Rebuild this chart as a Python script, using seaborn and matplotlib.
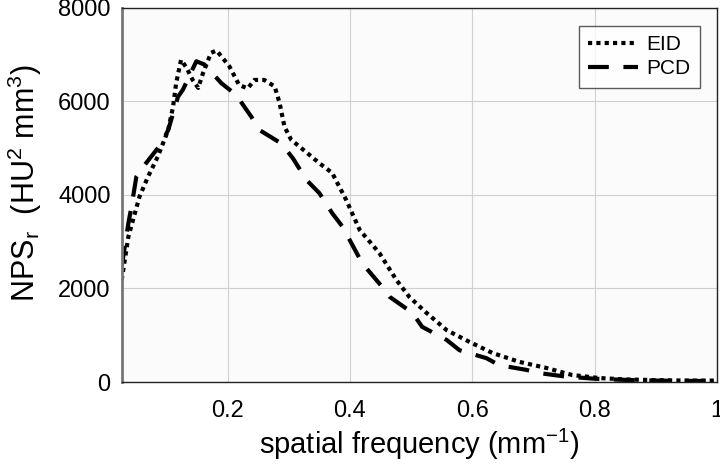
import pandas as pd
import matplotlib.pyplot as plt
import seaborn as sns

# valores
eid_freq = [0.027, 0.038, 0.056, 0.070, 0.086, 0.103, 0.111, 0.116, 0.124, 0.133,
            0.143, 0.152, 0.160, 0.173, 0.182, 0.192, 0.203, 0.219, 0.233, 0.244,
            0.260, 0.277, 0.285, 0.293, 0.304, 0.318, 0.350, 0.371, 0.394, 0.416,
            0.448, 0.476, 0.497, 0.525, 0.558, 0.595, 0.633, 0.677, 0.721, 0.763,
            0.807, 0.850, 0.900, 0.950, 1.000]
eid_nps = [2180, 3110, 3960, 4390, 4820, 5390, 5890, 6390, 6890, 6720,
           6460, 6290, 6610, 7040, 7090, 6930, 6750, 6350, 6280, 6460,
           6460, 6320, 5970, 5460, 5180, 5030, 4680, 4470, 3890, 3250,
           2760, 2180, 1820, 1480, 1110, 860, 620, 430, 300, 150,
           85, 55, 40, 30, 30]

pcd_freq = [0.027, 0.038, 0.043, 0.051, 0.062, 0.092, 0.103, 0.119, 0.127, 0.149,
            0.162, 0.190, 0.214, 0.239, 0.252, 0.288, 0.307, 0.329, 0.350, 0.371,
            0.388, 0.420, 0.453, 0.465, 0.502, 0.518, 0.558, 0.579, 0.623, 0.644,
            0.688, 0.710, 0.750, 0.800, 0.850, 0.900, 0.950, 1.000]
pcd_nps = [2470, 3400, 3750, 4390, 4600, 5100, 5390, 6100, 6250, 6860,
           6790, 6390, 6140, 5670, 5390, 5100, 4780, 4320, 4040, 3610,
           3320, 2540, 2030, 1820, 1480, 1180, 900, 680, 510, 360,
           260, 190, 120, 70, 45, 30, 25, 20]

y_ticks = [0, 2000, 4000, 6000, 8000]
x_ticks = [0.2, 0.4, 0.6, 0.8, 1.0]
x_tick_labels = ["0.2", "0.4", "0.6", "0.8", "1"]


def main():
    sns.set_style("whitegrid")
    plt.rcParams['font.family'] = ['Liberation Sans', 'DejaVu Sans']
    plt.rcParams['mathtext.fontset'] = 'custom'
    plt.rcParams['mathtext.rm'] = 'Liberation Sans'
    plt.rcParams['mathtext.it'] = 'Liberation Sans'
    plt.rcParams['text.color'] = 'black'
    plt.rcParams['axes.labelcolor'] = 'black'

    df = pd.concat([
        pd.DataFrame({'freq': eid_freq, 'nps': eid_nps, 'detector': 'EID'}),
        pd.DataFrame({'freq': pcd_freq, 'nps': pcd_nps, 'detector': 'PCD'}),
    ], ignore_index=True)

    fig = plt.figure(figsize=(7.2, 4.67), dpi=100)
    ax = fig.add_axes([0.169, 0.182, 0.827, 0.801])
    ax.set_facecolor('#fbfbfb')

    sns.lineplot(data=df, x='freq', y='nps', style='detector',
                 dashes={'EID': (1, 1), 'PCD': (5, 3.5)},
                 color='black', linewidth=3, ax=ax, sort=False)

    ax.set_xlim(0.027, 1.0)
    ax.set_ylim(0, 8000)
    ax.set_xticks(x_ticks)
    ax.set_xticklabels(x_tick_labels)
    ax.set_yticks(y_ticks)
    ax.tick_params(axis='both', labelsize=17, direction='in', length=4,
                   color='#333333', labelcolor='black')
    ax.tick_params(axis='x', pad=13)
    ax.tick_params(axis='y', pad=8)
    ax.grid(True, color='#d0d0d0', linewidth=0.8)

    for s in ax.spines.values():
        s.set_visible(True)
        s.set_color('#222222')
        s.set_linewidth(1.0)
    ax.spines['left'].set_color('#777777')
    ax.spines['left'].set_linewidth(2.0)

    ax.set_xlabel("spatial frequency (mm$^{-1}$)", fontsize=21)
    ax.set_ylabel("NPS$_r$  (HU$^2$ mm$^3$)", fontsize=22)
    ax.xaxis.set_label_coords(0.5, -0.12)
    ax.yaxis.set_label_coords(-0.13, 0.532)

    leg = ax.legend(loc='upper right', fontsize=15, frameon=True,
                    handlelength=2.4, borderpad=0.45, labelspacing=0.25,
                    handletextpad=0.4, fancybox=False, borderaxespad=0,
                    bbox_to_anchor=(0.971, 0.952))
    leg.get_frame().set_edgecolor('#333333')
    leg.get_frame().set_linewidth(1.0)
    for line in leg.get_lines():
        line.set_linewidth(3)

    fig.savefig("out.png", dpi=100)
    plt.close(fig)


if __name__ == "__main__":
    main()
